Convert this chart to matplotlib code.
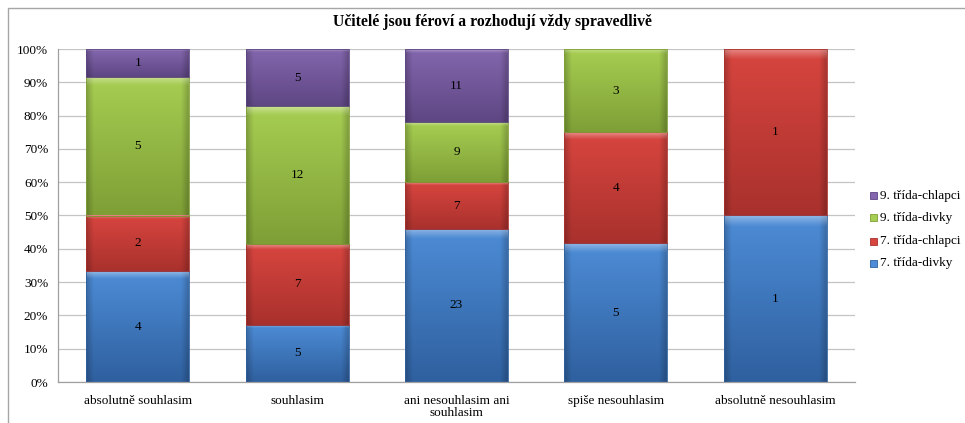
import numpy as np
import matplotlib
matplotlib.use("Agg")
import matplotlib.pyplot as plt
from matplotlib.patches import Rectangle
from matplotlib.colors import to_rgb

plt.rcParams['font.family'] = ['Liberation Serif', 'DejaVu Serif']

title = "Učitelé jsou féroví a rozhodují vždy spravedlivě"
categories = ["absolutně souhlasim", "souhlasim", "ani nesouhlasim ani\nsouhlasim",
              "spiše nesouhlasim", "absolutně nesouhlasim"]
series_names = ["7. třída-divky", "7. třída-chlapci", "9. třída-divky", "9. třída-chlapci"]
divky7 = [4, 5, 23, 5, 1]
chlapci7 = [2, 7, 7, 4, 1]
divky9 = [5, 12, 9, 3, 0]
chlapci9 = [1, 5, 11, 0, 0]
series = [divky7, chlapci7, divky9, chlapci9]

# (top colour, bottom colour) for each series
palette = [("#4d8cd6", "#2f609f"),
           ("#d8453f", "#a9312d"),
           ("#a7ce52", "#7e9f36"),
           ("#8467ae", "#5e4683")]

W, H = 965, 423
fig = plt.figure(figsize=(W / 100, H / 100), dpi=100)
ax = fig.add_axes([58 / W, 1 - 382 / H, (855 - 58) / W, (382 - 49) / H])

data = np.array(series, dtype=float)
totals = data.sum(axis=0)
pct = data / totals * 100
x = np.arange(len(categories))
bw = 0.646

ax.set_xlim(-0.5, len(categories) - 0.5)
ax.set_ylim(0, 100)


def gradient_img(top, bottom, n=64, m=32):
    t = np.linspace(0, 1, n)[:, None]
    c0 = np.array(to_rgb(top))
    c1 = np.array(to_rgb(bottom))
    img = c0 * (1 - t[..., None]) + c1 * t[..., None]
    img = np.repeat(img, m, axis=1)
    # darken the side edges a little for a bevelled look
    s = np.linspace(0, 1, m)
    edge = 1 - 0.18 * (np.clip(1 - s / 0.06, 0, 1) + np.clip((s - 0.94) / 0.06, 0, 1))
    img = img * edge[None, :, None]
    # light highlight along the top edge
    hl = np.clip(1 - np.linspace(0, 1, n) / 0.06, 0, 1)
    img = img + (1 - img) * 0.35 * hl[:, None, None]
    return np.clip(img, 0, 1)


bottoms = np.zeros(len(categories))
for si, (vals, (ctop, cbot)) in enumerate(zip(pct, palette)):
    for i, v in enumerate(vals):
        if v <= 0:
            continue
        y0, y1 = bottoms[i], bottoms[i] + v
        x0, x1 = x[i] - bw / 2, x[i] + bw / 2
        img = gradient_img(ctop, cbot)
        ax.imshow(img, extent=(x0, x1, y0, y1), origin='upper',
                  aspect='auto', zorder=2, interpolation='bilinear')
        ax.add_patch(Rectangle((x0, y0), bw, v, fill=False,
                               edgecolor=to_rgb(cbot), linewidth=0.6, zorder=3))
        ax.text(x[i], y0 + v / 2, f"{int(data[si][i])}", ha='center', va='center',
                fontsize=9.5, color='black', zorder=4)
    bottoms += vals

ax.set_xlim(-0.5, len(categories) - 0.5)
ax.set_ylim(0, 100)
ax.set_yticks(np.arange(0, 101, 10))
ax.set_yticklabels([f"{v}%" for v in range(0, 101, 10)], fontsize=9.5)
ax.set_xticks(x)
ax.set_xticklabels(categories, fontsize=9.5, linespacing=1.05)
ax.tick_params(axis='y', length=0, pad=7)
ax.tick_params(axis='x', length=0, pad=9)
ax.grid(axis='y', color='#c4c4c4', linewidth=0.9, zorder=0)
ax.set_axisbelow(True)
for side in ['top', 'right']:
    ax.spines[side].set_visible(False)
for side in ['left', 'bottom']:
    ax.spines[side].set_color('#a0a0a0')
    ax.spines[side].set_linewidth(0.9)

fig.text(492 / W, 1 - 22 / H, title, ha='center', va='center',
         fontsize=11.3, fontweight='bold')

# legend, last series on top
leg_y = [196, 218, 241, 263]
for k, si in enumerate(reversed(range(len(series_names)))):
    yc = 1 - leg_y[k] / H
    fig.patches.append(Rectangle((870 / W, yc - 3.5 / H), 7 / W, 7 / H,
                                 transform=fig.transFigure,
                                 facecolor=palette[si][0],
                                 edgecolor=palette[si][1], linewidth=0.6))
    fig.text(880 / W, yc, series_names[si], ha='left', va='center', fontsize=9.5)

# chart frame
fig.patches.append(Rectangle((8 / W, -0.05), 1.2, 1 - 8 / H + 0.05,
                             transform=fig.transFigure, fill=False,
                             edgecolor='#a6a6a6', linewidth=1.0))

fig.savefig("out.png", dpi=100)
